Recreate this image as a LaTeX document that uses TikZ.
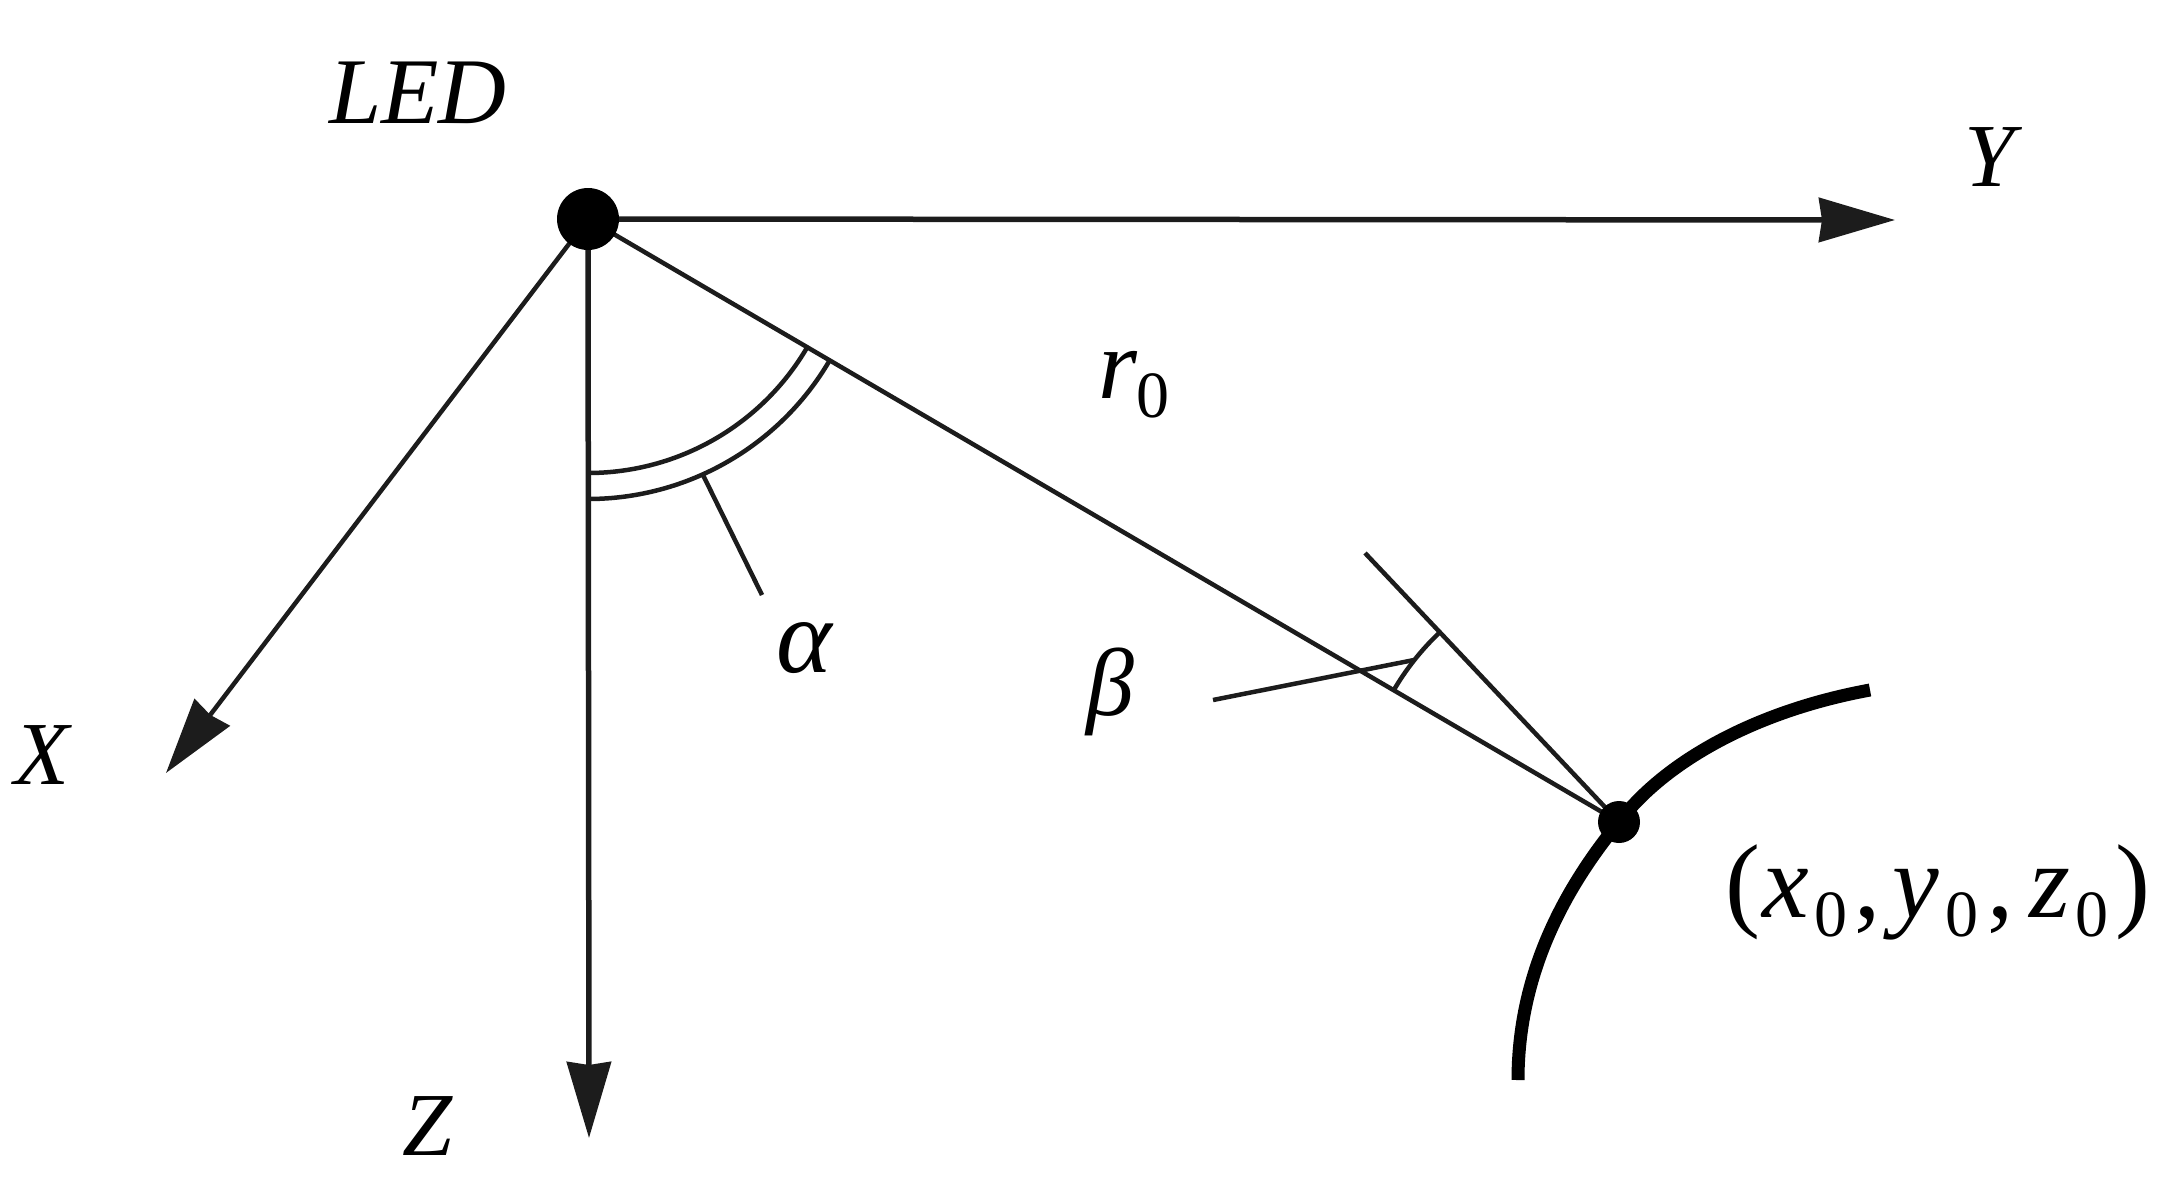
\documentclass[tikz,border=0pt]{standalone}
\usepackage{fontspec}
\setmainfont{Liberation Serif}
\usetikzlibrary{arrows.meta}
\definecolor{ink}{HTML}{1C1C1C}
\newcommand{\szero}{\raisebox{-19pt}{\fontsize{66}{66}\selectfont\upshape 0}}
\newcommand{\gap}[1]{\hspace{#1pt}}
\tikzset{
  x=1pt,y=1pt,
  lbl/.style={inner sep=0pt,font=\fontsize{90}{100}\selectfont\itshape,text=black},
  biglbl/.style={inner sep=0pt,font=\fontsize{105}{115}\selectfont\itshape,text=black},
  axis/.style={draw=ink,line width=5.5pt,-{Stealth[length=76pt,width=44pt,inset=3pt]}},
  thin line/.style={draw=ink,line width=4.5pt},
  dotmark/.style={circle,fill=black,inner sep=0pt},
}
\begin{document}
\begin{tikzpicture}
\useasboundingbox (0,0) rectangle (2184,-1188);
\coordinate (ledc) at (588,-219);
\coordinate (rxc) at (1619,-822);
\coordinate (yend) at (1895,-220);
\coordinate (zend) at (589,-1138);
\coordinate (xend) at (166,-773);
\coordinate (ntop) at (1365,-553);
\coordinate (pa) at (703,-475);
\coordinate (pb) at (762,-595);
\coordinate (bs) at (1213,-700);
\coordinate (be) at (1414,-660);
\coordinate (ca) at (1870,-690);
\coordinate (cb) at (1518,-1080);
% axes
\draw[axis] (ledc) -- (yend);
\draw[axis] (ledc) -- (zend);
\draw[axis,line width=4.5pt] (ledc) -- (xend);
% ray and receiver normal
\draw[thin line] (ledc) -- (rxc);
\draw[thin line] (rxc) -- (ntop);
% alpha arcs
\draw[thin line] (ledc) ++(-90:254pt) arc[start angle=-90,end angle=-30.4,radius=254pt];
\draw[thin line] (ledc) ++(-90:280pt) arc[start angle=-90,end angle=-30.4,radius=280pt];
\draw[thin line] (pa) -- (pb);
% beta arc
\draw[thin line] (rxc) ++(133.6:261pt) arc[start angle=133.6,end angle=150,radius=261pt];
\draw[thin line] (bs) -- (be);
% receiver curve
\draw[draw=black,line width=13pt] (ca) .. controls (1750,-712) and (1662,-765) .. (rxc)
  .. controls (1555,-900) and (1518,-985) .. (cb);
% dots
\node[dotmark,minimum size=62pt] (led) at (ledc) {};
\node[dotmark,minimum size=42pt] (rx) at (rxc) {};
% labels
\node[lbl,font=\fontsize{94}{100}\selectfont\itshape] (tled) at (418,-93) {LED};
\node[lbl] (ty) at (1990,-157) {Y};
\node[lbl] (tx) at (42,-755) {X};
\node[lbl] (tz) at (428,-1126) {Z};
\node[lbl,font=\fontsize{100}{110}\selectfont\itshape] (tr) at (1134,-385) {r\szero};
\node[lbl,font=\fontsize{106}{120}\selectfont\itshape] (ta) at (804,-648) {α};
\node[lbl,font=\fontsize{96}{110}\selectfont\itshape] (tb) at (1110,-692) {β};
\node[biglbl] (tp) at (1938,-892) {{\upshape(}\gap{2}x\gap{5}\szero\gap{7}{\upshape,}\gap{12}y\gap{6}\szero\gap{9}{\upshape,}\gap{16}z\gap{5}\szero\gap{7}{\upshape)}};
\end{tikzpicture}
\end{document}
